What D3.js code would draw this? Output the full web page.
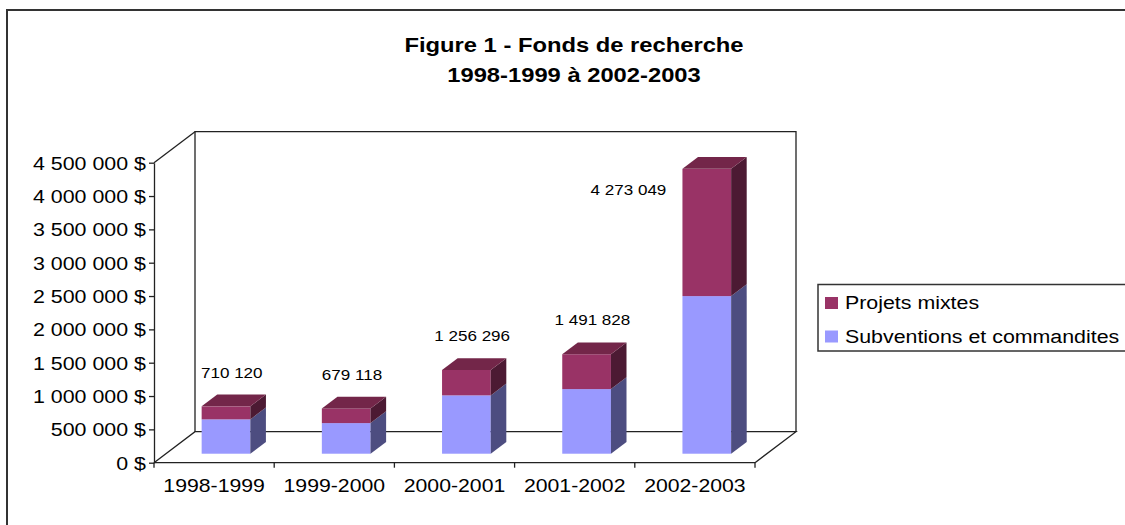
<!DOCTYPE html>
<html lang="fr">
<head>
	<meta charset="UTF-8">
	<title>Fonds de recherche</title>
	<script src="https://cdn.jsdelivr.net/npm/d3@7"></script>
	<style>
		body { margin: 0; background: #fff; }
		text { font-family: "Liberation Sans", Arial, sans-serif; fill: #000; }
	</style>
</head>
<body>
	<script>

		// donnees
		var categories = ["1998-1999", "1999-2000", "2000-2001", "2001-2002", "2002-2003"];
		var subventions = [515000, 459000, 875000, 969000, 2364000];
		var projetsMixtes = [195120, 220118, 381296, 522828, 1909049];
		var yTicks = [0, 500000, 1000000, 1500000, 2000000, 2500000, 3000000, 3500000, 4000000, 4500000];
		var seriesNames = ["Subventions et commandites", "Projets mixtes"];

		var colors = {
			subventions: { front: "#9999ff", side: "#4d4d80", top: "#7a7acc" },
			projetsMixtes: { front: "#993366", side: "#4c1a33", top: "#732649" }
		};

		var sx = 1.2; // le texte de l'original est etire en largeur

		var fr = d3.formatLocale({ decimal: ",", thousands: "\u00a0", grouping: [3], currency: ["", "\u00a0$"] });
		var fmtNum = fr.format(",d");

		var svg = d3.select("body").append("svg").attr("width", 1125).attr("height", 525);

		// cadre du graphique
		svg.append("rect").attr("x", 7).attr("y", 10).attr("width", 1140).attr("height", 540)
			.attr("fill", "none").attr("stroke", "#333").attr("stroke-width", 2);

		var x = d3.scaleBand().domain(categories).range([154, 755]);
		var y = d3.scaleLinear().domain([0, 4500000]).range([462.7, 162.7]);

		var depthX = 41, depthY = 31;
		var frontT = 0.29, barT = 0.38;
		var barW = x.bandwidth() * 0.405;

		var x0 = x.range()[0], x1 = x.range()[1];
		var yBottom = y(0), yTop = y(4500000);

		var walls = svg.append("g").attr("fill", "none").attr("stroke", "#222").attr("stroke-width", 1.3);
		// mur du fond
		walls.append("path").attr("d",
			"M" + (x0 + depthX) + "," + (yBottom - depthY) + "V" + (yTop - depthY) + "H" + (x1 + depthX) + "V" + (yBottom - depthY));
		// mur de gauche
		walls.append("path").attr("d",
			"M" + x0 + "," + yTop + "L" + (x0 + depthX) + "," + (yTop - depthY));
		// plancher
		walls.append("path").attr("d",
			"M" + x0 + "," + yBottom + "L" + (x0 + depthX) + "," + (yBottom - depthY) + "H" + (x1 + depthX) +
			"L" + x1 + "," + yBottom);

		// axe Y
		var yAxis = svg.append("g").attr("transform", "translate(" + x0 + ",0)")
			.call(d3.axisLeft(y).tickValues(yTicks).tickSize(5).tickSizeOuter(0)
				.tickFormat(function (d) { return fmtNum(d) + "\u00a0$"; }));
		yAxis.select(".domain").attr("stroke", "#222").attr("stroke-width", 1.3);
		yAxis.selectAll(".tick line").attr("stroke", "#222").attr("stroke-width", 1.3);
		yAxis.selectAll(".tick text").attr("x", null).attr("dy", "0.35em")
			.attr("transform", "translate(-8,0) scale(1.17,1)")
			.style("font-family", "'Liberation Sans', Arial, sans-serif").style("font-size", "18.3px").attr("fill", "#000");

		// axe X
		var xAxis = svg.append("g").attr("stroke", "#222").attr("stroke-width", 1.3);
		xAxis.append("line").attr("x1", x0).attr("x2", x1).attr("y1", yBottom).attr("y2", yBottom);
		var bounds = categories.map(function (c) { return x(c); }).concat([x1]);
		xAxis.selectAll(".tk").data(bounds).join("line").attr("class", "tk")
			.attr("x1", function (d) { return d; }).attr("x2", function (d) { return d; })
			.attr("y1", yBottom).attr("y2", yBottom + 5);
		svg.selectAll(".xlab").data(categories).join("text").attr("class", "xlab")
			.attr("transform", function (d) { return "translate(" + (x(d) + x.bandwidth() / 2) + "," + (yBottom + 29) + ") scale(" + sx + ",1)"; })
			.attr("text-anchor", "middle").style("font-size", "17.7px")
			.text(function (d) { return d; });

		// barres empilees
		var rows = categories.map(function (c, i) {
			return { cat: c, subventions: subventions[i], projetsMixtes: projetsMixtes[i] };
		});
		var stack = d3.stack().keys(["subventions", "projetsMixtes"])(rows);

		var fdx = frontT * depthX, fdy = frontT * depthY;
		var bdx = barT * depthX, bdy = barT * depthY;

		function barLeft(c) { return x(c) + x.bandwidth() / 2 + fdx - barW / 2; }

		var bars = svg.append("g");
		categories.forEach(function (c, i) {
			stack.forEach(function (layer, k) {
				var seg = layer[i];
				var col = colors[layer.key];
				var l = barLeft(c), r = l + barW;
				var t = y(seg[1]) - fdy, b = y(seg[0]) - fdy;
				bars.append("rect").attr("x", l).attr("y", t).attr("width", barW).attr("height", b - t)
					.attr("fill", col.front);
				bars.append("path").attr("fill", col.side)
					.attr("d", "M" + r + "," + t + "L" + (r + bdx) + "," + (t - bdy) + "L" + (r + bdx) + "," + (b - bdy) + "L" + r + "," + b + "Z");
				if (k === stack.length - 1) {
					bars.append("path").attr("fill", col.top)
						.attr("d", "M" + l + "," + t + "L" + (l + bdx) + "," + (t - bdy) + "L" + (r + bdx) + "," + (t - bdy) + "L" + r + "," + t + "Z");
				}
			});
		});

		// etiquettes des totaux
		var totals = stack[stack.length - 1].map(function (d) { return d[1]; });
		svg.selectAll(".vlab").data(totals).join("text").attr("class", "vlab")
			.attr("transform", function (d, i) {
				var l = barLeft(categories[i]);
				var t = y(d) - fdy;
				var lx = l + barW / 2 + bdx / 2 - 2, ly = t - bdy - 17;
				if (ly - 20 < yTop - depthY) { lx = l - 54; ly = t + 26; }
				return "translate(" + lx + "," + ly + ") scale(" + sx + ",1)";
			})
			.attr("text-anchor", "middle").style("font-size", "14.2px")
			.text(function (d) { return fmtNum(d); });

		// titre
		svg.append("text").attr("text-anchor", "middle").style("font-size", "19.8px").style("font-weight", "bold")
			.attr("transform", "translate(574,52) scale(" + sx + ",1)")
			.text("Figure 1 - Fonds de recherche");
		svg.append("text").attr("text-anchor", "middle").style("font-size", "19.8px").style("font-weight", "bold")
			.attr("transform", "translate(574,82) scale(" + sx + ",1)")
			.text("1998-1999 à 2002-2003");

		// legende
		var legend = svg.append("g");
		legend.append("rect").attr("x", 818).attr("y", 284.5).attr("width", 330).attr("height", 66.5)
			.attr("fill", "#fff").attr("stroke", "#333").attr("stroke-width", 1.5);
		var legendItems = [
			{ name: seriesNames[1], color: colors.projetsMixtes.front },
			{ name: seriesNames[0], color: colors.subventions.front }
		];
		legendItems.forEach(function (d, i) {
			legend.append("rect").attr("x", 825).attr("y", 297 + i * 33.5).attr("width", 13).attr("height", 12).attr("fill", d.color);
			legend.append("text").attr("transform", "translate(845," + (309 + i * 33.5) + ") scale(" + sx + ",1)")
				.style("font-size", "17.8px").text(d.name);
		});

	</script>
</body>
</html>
